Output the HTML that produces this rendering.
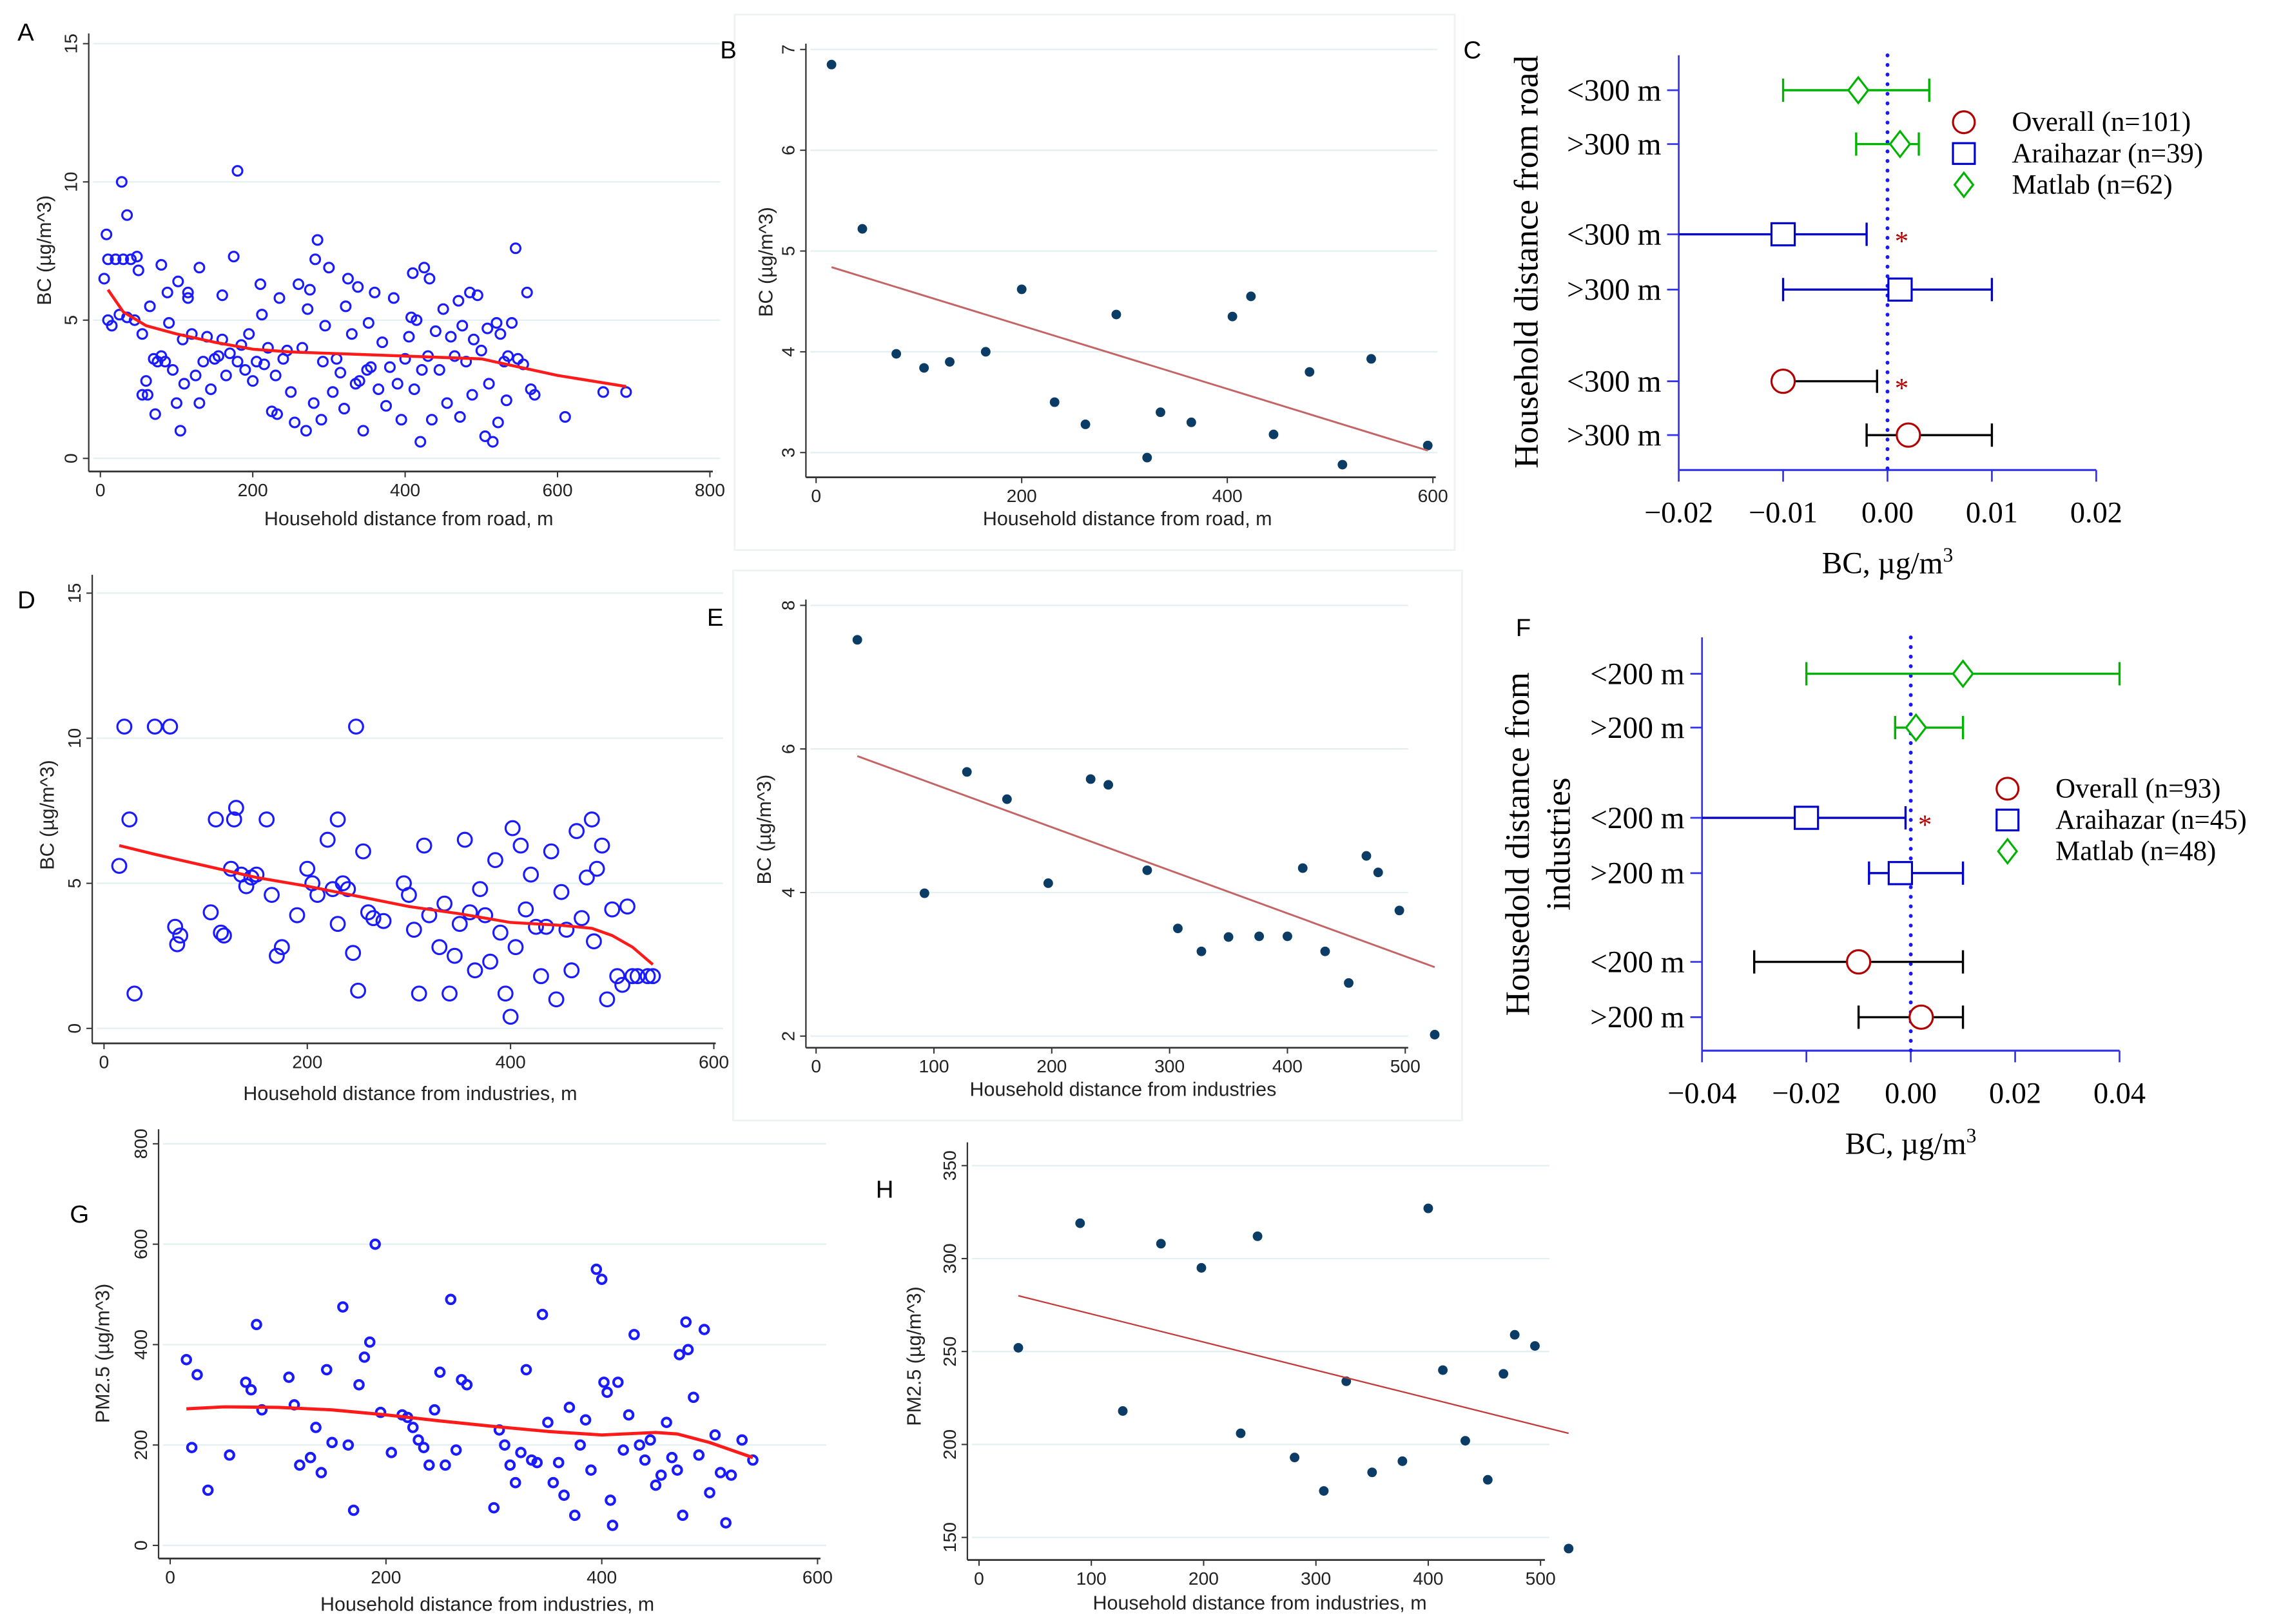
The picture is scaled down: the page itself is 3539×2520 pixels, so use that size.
<!DOCTYPE html>
<html><head><meta charset="utf-8"><title>BC and PM2.5 vs household distance</title>
<style>
html,body{margin:0;padding:0;background:#fff;}
svg{display:block;}
.tk{font-family:"Liberation Sans",sans-serif;font-size:12.5px;fill:#222;}
.ttl{font-family:"Liberation Sans",sans-serif;font-size:13.5px;fill:#222;}
.lt{font-family:"Liberation Sans",sans-serif;font-size:17px;fill:#000;}
.sf{font-family:"Liberation Serif",serif;}
</style></head>
<body>
<svg id="fig" xmlns="http://www.w3.org/2000/svg" width="3539" height="2520" viewBox="0 0 1568 1116" preserveAspectRatio="none">
<rect x="0" y="0" width="1568" height="1116" fill="#fff"/>
<rect x="505" y="10" width="495" height="368" fill="none" stroke="#eef2f2" stroke-width="1.2"/>
<rect x="504" y="392" width="501" height="378" fill="none" stroke="#eef2f2" stroke-width="1.2"/>
<text class="lt" x="12" y="28">A</text>
<text class="lt" x="495" y="40">B</text>
<text class="lt" x="1006" y="40">C</text>
<text class="lt" x="12" y="418">D</text>
<text class="lt" x="486" y="430">E</text>
<text class="lt" x="1042" y="437">F</text>
<text class="lt" x="48" y="840">G</text>
<text class="lt" x="602" y="823">H</text>
</svg>
<script>
// ---------- Panel A data ----------
const aX=[5,8,10,10,15,20,25,28,30,35,35,40,45,48,50,55,55,60,62,65,70,72,75,80,80,85,88,90,95,100,102,105,108,110,115,115,120,125,130,130,135,140,145,150,155,160,160,165,170,175,180,180,185,190,195,200,205,210,212,215,220,225,230,232,235,240,245,250,255,260,265,270,272,275,280,282,285,290,292,295,300,305,310,315,320,322,325,330,335,338,340,345,350,352,355,360,365,370,375,380,385,390,395,400,405,408,410,412,415,420,422,425,430,432,435,440,445,450,455,460,465,470,472,475,480,485,488,490,495,500,505,508,510,515,520,522,525,530,533,535,540,545,548,555,560,565,570,610,660,690];
const aY=[6.5,8.1,5,7.2,4.8,7.2,5.2,10,7.2,8.8,5.1,7.2,5,7.3,6.8,4.5,2.3,2.8,2.3,5.5,3.6,1.6,3.5,3.7,7,3.5,6,4.9,3.2,2,6.4,1,4.3,2.7,5.8,6,4.5,3,6.9,2,3.5,4.4,2.5,3.6,3.7,4.3,5.9,3,3.8,7.3,10.4,3.5,4.1,3.2,4.5,2.8,3.5,6.3,5.2,3.4,4,1.7,3,1.6,5.8,3.6,3.9,2.4,1.3,6.3,4,1,5.4,6.1,2,7.2,7.9,1.4,3.5,4.8,6.9,2.4,3.6,3.1,1.8,5.5,6.5,4.5,2.7,6.2,2.8,1,3.2,4.9,3.3,6,2.5,4.2,1.9,3.3,5.8,2.7,1.4,3.6,4.4,5.1,6.7,2.5,5,0.6,3.2,6.9,3.7,6.5,1.4,4.6,3.2,5.4,2,4.4,3.7,5.7,1.5,4.8,3.5,6,2.3,4.3,5.9,3.9,0.8,4.7,2.7,0.6,4.9,1.3,4.5,3.5,2.1,3.7,4.9,7.6,3.6,3.4,6,2.5,2.3,1.5,2.4,2.4];
const aFitX=[10,30,60,100,150,200,250,300,350,400,450,500,550,600,690];
const aFitY=[6.1,5.3,4.8,4.5,4.2,3.95,3.85,3.8,3.75,3.7,3.65,3.6,3.3,3.0,2.6];
const aXTicks=[0,200,400,600,800];
const aYTicks=[0,5,10,15];
// ---------- Panel B data ----------
const bX=[15,45,78,105,130,165,200,232,262,292,322,335,365,405,423,445,480,512,540,595];
const bY=[6.85,5.22,3.98,3.84,3.9,4.0,4.62,3.5,3.28,4.37,2.95,3.4,3.3,4.35,4.55,3.18,3.8,2.88,3.93,3.07];
const bFitX=[15,595];
const bFitY=[4.84,3.02];
const bXTicks=[0,200,400,600];
const bYTicks=[3,4,5,6,7];
// ---------- Panel C data (forest: road) ----------
const cLabels=["<300 m",">300 m","<300 m",">300 m","<300 m",">300 m"];
const cGroups=["matlab","matlab","araihazar","araihazar","overall","overall"];
const cEst=[-0.0028,0.0012,-0.01,0.0012,-0.01,0.002];
const cLow=[-0.01,-0.003,-0.02,-0.01,-0.01,-0.002];
const cHigh=[0.004,0.003,-0.002,0.01,-0.001,0.01];
const cStar=[false,false,true,false,true,false];
const cXTicks=[-0.02,-0.01,0,0.01,0.02];
const cXTickLabels=["\u22120.02","\u22120.01","0.00","0.01","0.02"];
const cLegend=["Overall (n=101)","Araihazar (n=39)","Matlab (n=62)"];
// ---------- Panel D data ----------
const dX=[15,20,25,30,50,65,70,72,75,105,110,115,118,125,128,130,135,140,145,150,160,165,170,175,190,200,205,210,220,225,230,230,235,240,245,248,250,255,260,265,275,295,300,305,310,315,320,330,335,340,345,350,355,360,365,370,375,380,385,390,395,400,402,405,410,415,420,425,430,435,440,445,450,455,460,465,470,475,480,482,485,490,495,500,505,510,515,520,525,535,540];
const dY=[5.6,10.4,7.2,1.2,10.4,10.4,3.5,2.9,3.2,4,7.2,3.3,3.2,5.5,7.2,7.6,5.3,4.9,5.2,5.3,7.2,4.6,2.5,2.8,3.9,5.5,5,4.6,6.5,4.8,7.2,3.6,5,4.8,2.6,10.4,1.3,6.1,4,3.8,3.7,5,4.6,3.4,1.2,6.3,3.9,2.8,4.3,1.2,2.5,3.6,6.5,4,2,4.8,3.9,2.3,5.8,3.3,1.2,0.4,6.9,2.8,6.3,4.1,5.3,3.5,1.8,3.5,6.1,1,4.7,3.4,2,6.8,3.8,5.2,7.2,3,5.5,6.3,1,4.1,1.8,1.5,4.2,1.8,1.8,1.8,1.8];
const dFitX=[15,50,100,150,200,250,300,350,400,450,480,500,520,540];
const dFitY=[6.3,6.0,5.6,5.2,4.9,4.55,4.2,3.95,3.65,3.55,3.45,3.2,2.8,2.2];
const dXTicks=[0,200,400,600];
const dYTicks=[0,5,10,15];
// ---------- Panel E data ----------
const eX=[35,92,128,162,197,233,248,281,307,327,350,376,400,413,432,452,467,477,495,525];
const eY=[7.52,3.99,5.68,5.3,4.13,5.58,5.5,4.31,3.5,3.18,3.38,3.39,3.39,4.34,3.18,2.74,4.51,4.28,3.75,2.02];
const eFitX=[35,525];
const eFitY=[5.9,2.96];
const eXTicks=[0,100,200,300,400,500];
const eYTicks=[2,4,6,8];
// ---------- Panel F data (forest: industries) ----------
const fLabels=["<200 m",">200 m","<200 m",">200 m","<200 m",">200 m"];
const fGroups=["matlab","matlab","araihazar","araihazar","overall","overall"];
const fEst=[0.01,0.001,-0.02,-0.002,-0.01,0.002];
const fLow=[-0.02,-0.003,-0.04,-0.008,-0.03,-0.01];
const fHigh=[0.04,0.01,-0.001,0.01,0.01,0.01];
const fStar=[false,false,true,false,false,false];
const fXTicks=[-0.04,-0.02,0,0.02,0.04];
const fXTickLabels=["\u22120.04","\u22120.02","0.00","0.02","0.04"];
const fLegend=["Overall (n=93)","Araihazar (n=45)","Matlab (n=48)"];
// ---------- Panel G data ----------
const gX=[15,20,25,35,55,70,75,80,85,110,115,120,130,135,140,145,150,160,165,170,175,180,185,190,195,205,215,220,225,230,235,240,245,250,255,260,265,270,275,300,305,310,315,320,325,330,335,340,345,350,355,360,365,370,375,380,385,390,395,400,402,405,408,410,415,420,425,430,435,440,445,450,455,460,465,470,472,475,478,480,485,490,495,500,505,510,515,520,530,540];
const gY=[370,195,340,110,180,325,310,440,270,335,280,160,175,235,145,350,205,475,200,70,320,375,405,600,265,185,260,255,235,210,195,160,270,345,160,490,190,330,320,75,230,200,160,125,185,350,170,165,460,245,125,165,100,275,60,200,250,150,550,530,325,305,90,40,325,190,260,420,200,170,210,120,140,245,175,150,380,60,445,390,295,180,430,105,220,145,45,140,210,170];
const gFitX=[15,50,100,150,200,250,300,350,400,450,470,500,540];
const gFitY=[272,276,275,270,260,248,237,227,220,225,222,205,175];
const gXTicks=[0,200,400,600];
const gYTicks=[0,200,400,600,800];
// ---------- Panel H data ----------
const hX=[35,90,128,162,198,233,248,281,307,327,350,377,400,413,433,453,467,477,495,525];
const hY=[252,319,218,308,295,206,312,193,175,234,185,191,327,240,202,181,238,259,253,144];
const hFitX=[35,525];
const hFitY=[280,206];
const hXTicks=[0,100,200,300,400,500];
const hYTicks=[150,200,250,300,350];

const NS="http://www.w3.org/2000/svg";
const svg=document.getElementById('fig');
function mk(tag,attrs,parent){const e=document.createElementNS(NS,tag);for(const k in attrs)e.setAttribute(k,attrs[k]);(parent||svg).appendChild(e);return e;}
function lin(d0,d1,r0,r1){return v=>r0+(v-d0)*(r1-r0)/(d1-d0);}

function scatterAxes(p){
  const g=mk('g',{});
  
  
  p.yTicks.forEach(t=>{
    const gl=mk('line',{x1:p.yAxisX+3,x2:p.gridRight,y1:p.sy(t),y2:p.sy(t),stroke:'#e3f0f2','stroke-width':1},g);
    
    
    const tl=mk('line',{x1:p.yAxisX-4,x2:p.yAxisX,y1:p.sy(t),y2:p.sy(t),stroke:'#333','stroke-width':0.9},g);
    
    
    const tx=mk('text',{class:'tk',x:0,y:0,'text-anchor':'middle',transform:`translate(${p.yAxisX-8},${p.sy(t)}) rotate(-90)`},g);
    tx.textContent=String(t);
    
    
  });
  const ya=mk('line',{x1:p.yAxisX,x2:p.yAxisX,y1:p.yAxisTop,y2:p.xAxisY,stroke:'#333','stroke-width':1},g);
  
  
  const xa=mk('line',{x1:p.yAxisX,x2:p.xAxisRight,y1:p.xAxisY,y2:p.xAxisY,stroke:'#333','stroke-width':1.2},g);
  
  
  p.xTicks.forEach(t=>{
    const tl=mk('line',{x1:p.sx(t),x2:p.sx(t),y1:p.xAxisY,y2:p.xAxisY+4,stroke:'#333','stroke-width':0.9},g);
    
    
    const tx=mk('text',{class:'tk',x:p.sx(t),y:p.xAxisY+17,'text-anchor':'middle'},g);
    tx.textContent=String(t);
    
    
  });
  const xt=mk('text',{class:'ttl',x:p.xTitleX,y:p.xTitleY,'text-anchor':'middle'},g);
  xt.textContent=p.xTitle;
  
  
  const yt=mk('text',{class:'ttl',x:0,y:0,'text-anchor':'middle',transform:`translate(${p.yTitleX},${p.yTitleY}) rotate(-90)`},g);
  yt.textContent=p.yTitle;
  
  
}
function scatterPoints(p,xs,ys,style){
  const g=mk('g',{});
  
  
  for(let i=0;i<xs.length;i++){
    let c;
    if(style==='open') c=mk('circle',{cx:p.sx(xs[i]),cy:p.sy(ys[i]),r:p.r,fill:'none',stroke:'#1a1aff','stroke-width':p.sw},g);
    else c=mk('circle',{cx:p.sx(xs[i]),cy:p.sy(ys[i]),r:p.r,fill:'#0b3c66'},g);
    
    
  }
}
function fitLine(p,xs,ys,color,w,name){
  const d=xs.map((x,i)=>(i?'L':'M')+p.sx(x).toFixed(2)+','+p.sy(ys[i]).toFixed(2)).join(' ');
  const l=mk('path',{d:d,fill:'none',stroke:color,'stroke-width':w,'stroke-linejoin':'round'});
  
  
}

// Panel A
const pA={name:'panel-a',sx:lin(0,800,69,488),sy:lin(0,15,315,30),yAxisX:61,yAxisTop:23,xAxisY:324,xAxisRight:490,gridRight:495,r:3.3,sw:1.4,
  xTicks:aXTicks,yTicks:aYTicks,xTitle:'Household distance from road, m',xTitleX:281,xTitleY:361,yTitle:'BC (\u00b5g/m^3)',yTitleX:35,yTitleY:172};
scatterAxes(pA);scatterPoints(pA,aX,aY,'open');fitLine(pA,aFitX,aFitY,'#ff1a1a',2,'panel-a-lowess-line');
// Panel B
const pB={name:'panel-b',sx:lin(0,600,561,985),sy:lin(3,7,311,34),yAxisX:554,yAxisTop:30,xAxisY:328,xAxisRight:987,gridRight:988,r:3.3,
  xTicks:bXTicks,yTicks:bYTicks,xTitle:'Household distance from road, m',xTitleX:775,xTitleY:361,yTitle:'BC (\u00b5g/m^3)',yTitleX:531,yTitleY:180};
scatterAxes(pB);scatterPoints(pB,bX,bY,'filled');fitLine(pB,bFitX,bFitY,'#c46464',1.3,'panel-b-fit-line');
// Panel D
const pD={name:'panel-d',sx:lin(0,600,71.5,490.7),sy:lin(0,15,706.7,407.6),yAxisX:63.4,yAxisTop:395,xAxisY:717,xAxisRight:492,gridRight:497,r:4.8,sw:1.4,
  xTicks:dXTicks,yTicks:dYTicks,xTitle:'Household distance from industries, m',xTitleX:282,xTitleY:756,yTitle:'BC (\u00b5g/m^3)',yTitleX:37,yTitleY:560};
scatterAxes(pD);scatterPoints(pD,dX,dY,'open');fitLine(pD,dFitX,dFitY,'#ff1a1a',2,'panel-d-lowess-line');
// Panel E
const pE={name:'panel-e',sx:lin(0,500,561,966),sy:lin(2,8,712,416),yAxisX:554,yAxisTop:412,xAxisY:720,xAxisRight:968,gridRight:968,r:3.3,
  xTicks:eXTicks,yTicks:eYTicks,xTitle:'Household distance from industries',xTitleX:772,xTitleY:753,yTitle:'BC (\u00b5g/m^3)',yTitleX:530,yTitleY:570};
scatterAxes(pE);scatterPoints(pE,eX,eY,'filled');fitLine(pE,eFitX,eFitY,'#c46464',1.3,'panel-e-fit-line');
// Panel G
const pG={name:'panel-g',sx:lin(0,600,117,562),sy:lin(0,800,1062,786),yAxisX:109,yAxisTop:776,xAxisY:1071,xAxisRight:564,gridRight:568,r:3,sw:1.8,
  xTicks:gXTicks,yTicks:gYTicks,xTitle:'Household distance from industries, m',xTitleX:335,xTitleY:1107,yTitle:'PM2.5 (\u00b5g/m^3)',yTitleX:75,yTitleY:930};
scatterAxes(pG);scatterPoints(pG,gX,gY,'open');fitLine(pG,gFitX,gFitY,'#ff1a1a',2.2,'panel-g-lowess-line');
// Panel H
const pH={name:'panel-h',sx:lin(0,500,673,1059),sy:lin(150,350,1056.5,801),yAxisX:665,yAxisTop:785,xAxisY:1072,xAxisRight:1062,gridRight:1065,r:3.3,
  xTicks:hXTicks,yTicks:hYTicks,xTitle:'Household distance from industries, m',xTitleX:866,xTitleY:1106,yTitle:'PM2.5 (\u00b5g/m^3)',yTitleX:633,yTitleY:932};
scatterAxes(pH);scatterPoints(pH,hX,hY,'filled');fitLine(pH,hFitX,hFitY,'#c43a3a',1,'panel-h-fit-line');

// Forest plots
const COL={overall:'#b30000',araihazar:'#0000cc',matlab:'#00b300'};
const WCOL={overall:'#000',araihazar:'#0000cc',matlab:'#00b300'};
function marker(g,grp,x,y,s){
  let m;
  if(grp==='overall') m=mk('circle',{cx:x,cy:y,r:s,fill:'#fff',stroke:COL.overall,'stroke-width':1.4},g);
  else if(grp==='araihazar') m=mk('rect',{x:x-s,y:y-s*0.95,width:2*s,height:1.9*s,fill:'#fff',stroke:COL.araihazar,'stroke-width':1.4},g);
  else m=mk('path',{d:`M${x},${y-s*1.1} L${x+s*0.85},${y} L${x},${y+s*1.1} L${x-s*0.85},${y} Z`,fill:'#fff',stroke:COL.matlab,'stroke-width':1.4},g);
  return m;
}
function forest(p,labels,groups,est,low,high,star,ticks,tickLabels,legend){
  const g=mk('g',{});
  
  
  const ax=p.sx(ticks[0]), axR=p.sx(ticks[ticks.length-1]);
  const la=mk('line',{x1:ax,x2:ax,y1:p.top,y2:p.bottom,stroke:'#3333ee','stroke-width':1.2},g);
  
  
  const ba=mk('line',{x1:ax,x2:axR,y1:p.bottom,y2:p.bottom,stroke:'#3333ee','stroke-width':1.4},g);
  
  
  ticks.forEach((t,i)=>{
    const tl=mk('line',{x1:p.sx(t),x2:p.sx(t),y1:p.bottom,y2:p.bottom+8,stroke:'#3333ee','stroke-width':1.2},g);
    
    
    const tx=mk('text',{class:'sf','font-size':20.5,fill:'#000',x:p.sx(t),y:p.bottom+36,'text-anchor':'middle'},g);
    tx.textContent=tickLabels[i];
    
    
  });
  const zl=mk('line',{x1:p.sx(0),x2:p.sx(0),y1:p.top,y2:p.bottom,stroke:'#1a1aee','stroke-width':2.6,'stroke-dasharray':'0.1 6.5','stroke-linecap':'round'},g);
  
  
  labels.forEach((lab,i)=>{
    const y=p.rows[i];
    const tl=mk('line',{x1:ax-8,x2:ax,y1:y,y2:y,stroke:'#3333ee','stroke-width':1.2},g);
    
    
    const tx=mk('text',{class:'sf','font-size':21,fill:'#000',x:ax-12,y:y+7,'text-anchor':'end'},g);
    tx.textContent=lab;
    
    
    const c=WCOL[groups[i]];
    const w=mk('line',{x1:p.sx(low[i]),x2:p.sx(high[i]),y1:y,y2:y,stroke:c,'stroke-width':1.5},g);
    
    
    [low[i],high[i]].forEach(v=>{
      if(Math.abs(p.sx(v)-ax)<1 || Math.abs(v-est[i])<1e-9) return;
      const cap=mk('line',{x1:p.sx(v),x2:p.sx(v),y1:y-8,y2:y+8,stroke:c,'stroke-width':1.5},g);
      
      
    });
    const m=marker(g,groups[i],p.sx(est[i]),y,p.ms);
    
    
    if(star[i]){
      const s=mk('text',{class:'sf','font-size':19,x:p.sx(0)+5,y:y+11},g);
      s.style.fill='#b30000';
      s.textContent='*';
      
      
    }
  });
  const grpOrder=['overall','araihazar','matlab'];
  legend.forEach((t,i)=>{
    const y=p.legY+i*p.legDy;
    const m=marker(g,grpOrder[i],p.legX,y,7.5);
    
    
    const tx=mk('text',{class:'sf','font-size':19,fill:'#000',x:p.legX+33,y:y+6},g);
    tx.textContent=t;
    
    
  });
  const xt=mk('text',{class:'sf','font-size':21,fill:'#000',x:p.sx(0),y:p.bottom+71,'text-anchor':'middle'},g);
  
  
  xt.textContent='BC, \u00b5g/m';
  const sup=mk('tspan',{'font-size':14,dy:-8},xt);
  sup.textContent='3';
  p.yTitle.forEach((t,i)=>{
    const yt=mk('text',{class:'sf','font-size':23.5,fill:'#000',x:0,y:0,'text-anchor':'middle',transform:`translate(${p.yTitleX[i]},${p.yTitleY}) rotate(-90)`},g);
    yt.textContent=t;
    
    
  });
}
forest({name:'panel-c-forest',sx:lin(-0.02,0.02,1154,1441),top:38,bottom:323,rows:[62,99,161,199,262,299],ms:8,legX:1350,legY:84,legDy:21.5,
  yTitle:['Household distance from road'],yTitleX:[1057],yTitleY:180},cLabels,cGroups,cEst,cLow,cHigh,cStar,cXTicks,cXTickLabels,cLegend);
forest({name:'panel-f-forest',sx:lin(-0.04,0.04,1170,1457),top:438,bottom:722,rows:[463,500,562,600,661,699],ms:8,legX:1380,legY:542,legDy:21.5,
  yTitle:['Housedold distance from','industries'],yTitleX:[1051,1079],yTitleY:580},fLabels,fGroups,fEst,fLow,fHigh,fStar,fXTicks,fXTickLabels,fLegend);
</script>
</body></html>
